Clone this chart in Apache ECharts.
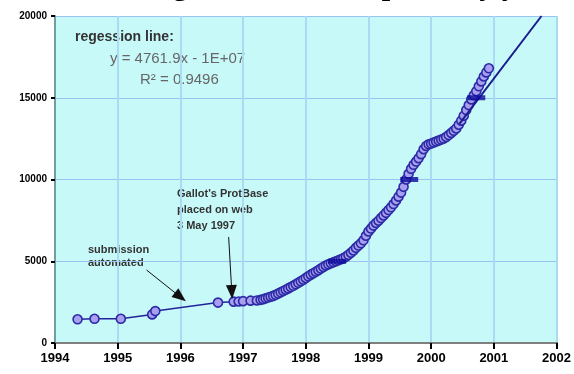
<!DOCTYPE html>
<html>
<head>
<meta charset="utf-8">
<script src="https://cdn.jsdelivr.net/npm/echarts@6/dist/echarts.min.js"></script>
<style>html,body{margin:0;padding:0;background:#fff}#c{width:574px;height:374px}</style>
</head>
<body>
<div id="c"></div>
<script>
// ---- data ----
const xTicks = [1994, 1995, 1996, 1997, 1998, 1999, 2000, 2001, 2002];
const yTicks = [0, 5000, 10000, 15000, 20000];
const years = [1994.36, 1994.63, 1995.05, 1995.55, 1995.6, 1996.6, 1996.85, 1996.93, 1997.0, 1997.12, 1997.22,
  1997.28, 1997.32, 1997.36, 1997.40, 1997.44, 1997.48, 1997.52, 1997.56, 1997.60, 1997.64, 1997.68, 1997.72,
  1997.76, 1997.80, 1997.84, 1997.88, 1997.92, 1997.96, 1998.00, 1998.04, 1998.08, 1998.12, 1998.16, 1998.20,
  1998.24, 1998.28, 1998.32, 1998.36, 1998.40, 1998.44, 1998.48, 1998.52, 1998.56, 1998.60, 1998.64, 1998.68,
  1998.72, 1998.76, 1998.80, 1998.84, 1998.88, 1998.92, 1998.96, 1999.00, 1999.04, 1999.08, 1999.12, 1999.16,
  1999.20, 1999.24, 1999.28, 1999.32, 1999.36, 1999.40, 1999.44, 1999.48, 1999.52, 1999.56, 1999.60, 1999.64,
  1999.68, 1999.72, 1999.76, 1999.80, 1999.84, 1999.88, 1999.92, 1999.96, 2000.00, 2000.04, 2000.08, 2000.12,
  2000.16, 2000.20, 2000.24, 2000.28, 2000.32, 2000.36, 2000.40, 2000.44, 2000.48, 2000.52, 2000.56, 2000.60,
  2000.64, 2000.68, 2000.72, 2000.76, 2000.80, 2000.84, 2000.88, 2000.92];
const entries = [1450, 1480, 1480, 1750, 1950, 2470, 2530, 2540, 2560, 2590, 2600,
  2640, 2680, 2730, 2780, 2830, 2880, 2950, 3020, 3100, 3180, 3260, 3340,
  3420, 3500, 3590, 3680, 3770, 3870, 3980, 4080, 4180, 4270, 4360, 4450,
  4550, 4650, 4740, 4810, 4880, 4940, 5000, 5060, 5120, 5190, 5280, 5390,
  5520, 5660, 5820, 5960, 6100, 6280, 6560, 6820, 7000, 7180, 7340, 7480,
  7640, 7800, 7960, 8130, 8300, 8500, 8720, 8950, 9200, 9550, 10000, 10350,
  10650, 10900, 11100, 11300, 11550, 11850, 12050, 12150, 12200, 12260, 12320, 12380,
  12440, 12500, 12600, 12720, 12850, 12980, 13120, 13350, 13600, 13900, 14250, 14550,
  14900, 15150, 15400, 15700, 16000, 16300, 16550, 16800];
const trendYears = [2000.45, 2001.76];
const trendValues = [13400, 20000];
const milestoneYears = [1998.5, 1999.65, 2000.72];
const milestoneValues = [5000, 10000, 15000];
const arrowFrom = [[1995.46, 4465], [1996.77, 6480]];
const arrowTo = [[1996.0, 2813], [1996.82, 3120]];
const titleText = 'Cumulative growth of the deposits by year';
const noteRegression = ['regession line:', 'y = 4761.9x - 1E+07', 'R\u00b2 = 0.9496'];
const noteSubmission = ['submission', 'automated'];
const noteWeb = ["Gallot's ProtBase", 'placed on web', '3 May 1997'];

const chart = echarts.init(document.getElementById('c'), null, {renderer: 'canvas'});
const pts = years.map((y, i) => [y, entries[i]]);
const trend = trendYears.map((y, i) => [y, trendValues[i]]);
const miles = milestoneYears.map((y, i) => [y, milestoneValues[i]]);
const arrows = arrowFrom.map((f, i) => [{coord: f}, {coord: arrowTo[i]}]);

const txt = (x, y, s, o) => Object.assign({type: 'text', left: x, top: y, silent: true,
  style: Object.assign({text: s, fontFamily: 'Liberation Sans, Arial', fontSize: 11, fontWeight: 'bold', fill: '#333'}, o || {})});

chart.setOption({
  animation: false,
  grid: {left: 55, right: 11, top: 16, bottom: 31, show: true, backgroundColor: '#c8f9f9', borderWidth: 0},
  xAxis: [{
    type: 'value', min: xTicks[0], max: xTicks[xTicks.length - 1], interval: 1,
    axisLine: {show: true, onZero: false, lineStyle: {color: '#000', width: 2}},
    axisTick: {show: true, length: 6, lineStyle: {color: '#000', width: 2}},
    axisLabel: {margin: 9, fontFamily: 'Liberation Sans, Arial', fontWeight: 'bold', fontSize: 13, color: '#000',
      formatter: v => String(v)},
    splitLine: {show: true, lineStyle: {color: '#a9dcf2', width: 2}}
  }, {
    type: 'value', position: 'top', min: xTicks[0], max: xTicks[xTicks.length - 1],
    axisLine: {show: true, lineStyle: {color: '#808080', width: 2}},
    axisTick: {show: false}, axisLabel: {show: false}, splitLine: {show: false}
  }],
  yAxis: {
    type: 'value', min: yTicks[0], max: yTicks[yTicks.length - 1], interval: 5000,
    axisLine: {show: true, onZero: false, lineStyle: {color: '#6f9f9f', width: 2}},
    axisTick: {show: true, length: 4, lineStyle: {color: '#000', width: 2}},
    axisLabel: {margin: 8, fontFamily: 'Liberation Sans, Arial', fontWeight: 'bold', fontSize: 10, color: '#000',
      formatter: v => String(v)},
    splitLine: {show: true, lineStyle: {color: '#9cc2f2', width: 1}}
  },
  series: [{
    type: 'line', data: pts, symbol: 'circle', symbolSize: 9, showSymbol: true, showAllSymbol: true,
    lineStyle: {color: '#23239a', width: 1.5},
    itemStyle: {color: '#a8a0ee', borderColor: '#2c2aa6', borderWidth: 1.6},
    markLine: {
      silent: true, symbol: ['none', 'triangle'], symbolSize: [11, 14],
      label: {show: false},
      lineStyle: {color: '#111', width: 1, type: 'solid'},
      data: arrows
    }
  }, {
    type: 'line', data: trend, symbol: 'none', z: 4, lineStyle: {color: '#1c1c8c', width: 2}
  }, {
    type: 'scatter', data: miles, symbol: 'rect', symbolSize: [18, 5], z: 6,
    itemStyle: {color: '#0a0a9a'}
  }],
  graphic: [
    {type: 'text', left: 'center', top: -28, silent: true,
      style: {text: titleText, fontFamily: 'Liberation Serif, Times New Roman', fontSize: 30, fontWeight: 'bold', fill: '#000'}},
    txt(75, 30, noteRegression[0], {fontSize: 14, fill: '#333'}),
    txt(110, 51, noteRegression[1], {fontSize: 15, fontWeight: 'normal', fill: '#666'}),
    txt(140, 72, noteRegression[2], {fontSize: 15, fontWeight: 'normal', fill: '#666'}),
    txt(88, 244, noteSubmission[0]),
    txt(88, 257, noteSubmission[1]),
    txt(177, 188, noteWeb[0]),
    txt(177, 204, noteWeb[1]),
    txt(177, 220, noteWeb[2])
  ]
});
</script>
</body>
</html>
